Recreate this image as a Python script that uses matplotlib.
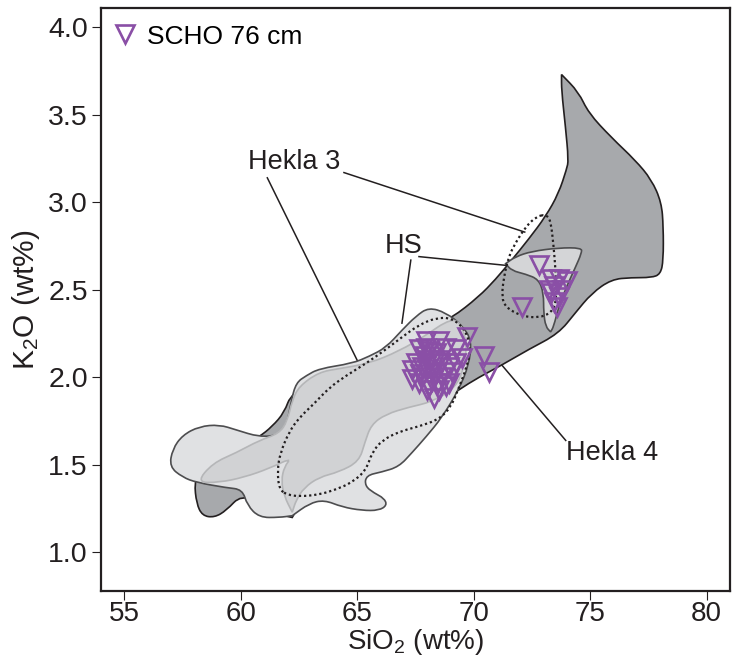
import matplotlib
matplotlib.use("Agg")
import matplotlib.pyplot as plt
from matplotlib.patches import PathPatch
from matplotlib.path import Path

plt.rcParams['font.family'] = ['Liberation Sans', 'DejaVu Sans']
plt.rcParams['mathtext.default'] = 'regular'

# Hekla 4 envelope (SiO2 wt%, K2O wt%)
hekla4_sio2 = [73.77, 74.50, 74.93, 75.91, 76.94, 77.63, 78.06, 78.14, 78.14, 78.02,
               77.63, 76.77, 75.91, 75.06, 74.37, 73.64, 72.36, 71.20, 70.21, 69.36,
               66.79, 64.65, 62.51, 62.21, 61.87, 61.01, 60.02, 59.38, 58.87, 58.35,
               58.10, 58.01, 58.22, 59.51, 60.79, 61.35, 61.87, 62.17, 63.79, 65.93,
               67.65, 69.06, 70.21, 70.94, 71.63, 72.36, 73.09, 73.64, 73.99, 74.07,
               73.94, 73.77]
hekla4_k2o = [3.73, 3.63, 3.51, 3.37, 3.24, 3.13, 3.00, 2.86, 2.67, 2.59,
              2.57, 2.57, 2.56, 2.48, 2.37, 2.25, 2.16, 2.07, 2.00, 1.93,
              1.70, 1.47, 1.27, 1.20, 1.21, 1.27, 1.33, 1.24, 1.20, 1.21,
              1.28, 1.40, 1.44, 1.56, 1.66, 1.72, 1.80, 1.91, 2.03, 2.13,
              2.24, 2.34, 2.46, 2.56, 2.67, 2.79, 2.92, 3.05, 3.19, 3.24,
              3.43, 3.64]

# HS envelope, main body
hs_sio2 = [62.21, 62.94, 63.58, 64.35, 65.21, 65.93, 66.28, 66.15, 65.72, 65.33,
           65.38, 66.06, 66.79, 67.35, 67.95, 68.63, 69.36, 69.79, 69.92, 69.49,
           68.80, 68.07, 67.52, 66.92, 66.23, 65.51, 64.78, 63.36, 62.81, 62.38,
           62.17, 62.00, 61.65, 60.79, 59.81, 59.08, 58.22, 57.50, 57.07, 56.94,
           57.50, 58.10, 59.38, 60.07, 60.28, 60.79, 61.65]
hs_k2o = [1.21, 1.28, 1.30, 1.26, 1.24, 1.24, 1.27, 1.31, 1.34, 1.38,
          1.44, 1.46, 1.49, 1.57, 1.66, 1.77, 1.93, 2.07, 2.21, 2.30,
          2.37, 2.40, 2.35, 2.27, 2.17, 2.12, 2.08, 2.05, 2.01, 1.97,
          1.87, 1.74, 1.67, 1.66, 1.70, 1.73, 1.72, 1.67, 1.59, 1.49,
          1.43, 1.40, 1.37, 1.36, 1.27, 1.20, 1.20]

# HS envelope, high-silica lobe
hs2_sio2 = [71.37, 71.80, 72.49, 73.64, 74.63, 74.63, 74.37, 73.99, 73.64, 73.43,
            73.30, 73.09, 73.00, 73.00, 72.79, 72.23, 71.63]
hs2_k2o = [2.65, 2.69, 2.72, 2.74, 2.74, 2.71, 2.63, 2.52, 2.40, 2.29,
           2.26, 2.29, 2.37, 2.48, 2.56, 2.59, 2.61]

# inner field (grey outline)
inner_sio2 = [58.10, 58.79, 59.81, 60.79, 61.65, 62.00, 62.21, 62.51, 63.36, 64.22,
              65.51, 66.79, 67.95, 68.80, 69.36, 69.70, 69.62, 69.23, 68.20, 67.22,
              66.23, 65.60, 65.33, 65.08, 64.22, 63.36, 62.72, 62.38, 62.21, 61.87,
              61.74, 61.87, 62.17, 61.22, 60.15, 59.08]
inner_k2o = [1.40, 1.51, 1.57, 1.64, 1.68, 1.75, 1.87, 1.95, 2.03, 2.05,
             2.08, 2.15, 2.24, 2.32, 2.33, 2.21, 2.07, 1.94, 1.86, 1.83,
             1.79, 1.73, 1.63, 1.52, 1.46, 1.43, 1.37, 1.30, 1.23, 1.32,
             1.41, 1.49, 1.54, 1.48, 1.43, 1.40]

# Hekla 3 envelopes (dotted)
h3a_sio2 = [61.65, 61.57, 61.70, 62.08, 62.51, 63.15, 63.79, 64.52, 65.38, 66.23,
            66.92, 67.65, 68.38, 69.06, 69.66, 69.87, 69.70, 69.36, 69.02, 68.50,
            67.65, 66.79, 66.06, 65.63, 65.38, 64.78, 64.09, 63.36, 62.51, 62.00]
h3a_k2o = [1.36, 1.47, 1.57, 1.69, 1.77, 1.85, 1.94, 2.01, 2.08, 2.16,
           2.23, 2.30, 2.34, 2.34, 2.27, 2.16, 2.06, 1.94, 1.83, 1.76,
           1.72, 1.69, 1.64, 1.57, 1.47, 1.40, 1.36, 1.33, 1.32, 1.33]
h3b_sio2 = [73.09, 73.30, 73.43, 73.52, 73.56, 73.34, 72.79, 72.06, 71.37, 71.20,
            71.29, 71.50, 71.80, 72.23, 72.70]
h3b_k2o = [2.93, 2.90, 2.75, 2.60, 2.44, 2.37, 2.34, 2.35, 2.40, 2.46,
           2.57, 2.69, 2.77, 2.86, 2.92]

# SCHO 76 cm glass shards
scho_sio2 = [68.50, 69.70, 69.49, 70.43, 70.64, 68.29, 67.65, 67.35, 68.93, 67.95,
             68.80, 67.78, 68.07, 68.50, 68.93, 67.52, 68.20, 68.63, 67.65, 68.07,
             69.06, 69.23, 67.95, 68.38, 67.35, 68.50, 68.80, 67.78, 69.23,
             68.00, 68.30, 68.20, 67.90, 68.40, 68.60, 67.70, 68.10, 68.45, 68.00,
             72.79, 72.06, 73.30, 73.64, 73.99, 73.43, 73.77, 73.30, 73.64, 73.43,
             73.56, 73.22]
scho_k2o = [2.21, 2.23, 2.11, 2.12, 2.03, 1.88, 2.16, 1.99, 1.97, 2.17,
            2.17, 2.06, 2.10, 2.10, 2.06, 2.08, 2.03, 2.00, 1.97, 1.95,
            2.03, 2.08, 2.21, 2.14, 2.04, 1.93, 1.95, 2.00, 2.16,
            2.05, 2.08, 1.98, 2.12, 2.02, 2.08, 2.02, 2.15, 1.97, 1.93,
            2.64, 2.40, 2.56, 2.56, 2.55, 2.52, 2.50, 2.48, 2.46, 2.43,
            2.40, 2.50]

# labels: (text, text position, leader line ends)
labels = [
    ("Hekla 3", (62.29, 3.23), [((61.14, 3.14), (64.99, 2.10)), ((64.43, 3.17), (72.19, 2.83))]),
    ("HS", (67.0, 2.75), [((67.30, 2.67), (66.92, 2.31)), ((67.65, 2.69), (71.38, 2.64))]),
    ("Hekla 4", (75.95, 1.57), [((73.95, 1.64), (71.21, 2.07))]),
]


def smooth_outline(xs, ys, corners=()):
    # closed outline drawn with quadratic curves; corner points are kept sharp
    pts = list(zip(xs, ys))
    n = len(pts)
    mid = lambda a, b: ((a[0] + b[0]) / 2, (a[1] + b[1]) / 2)
    start = mid(pts[-1], pts[0])
    verts, codes = [start], [Path.MOVETO]
    for i in range(n):
        nxt = mid(pts[i], pts[(i + 1) % n])
        verts += [pts[i], nxt]
        if i in corners:
            codes += [Path.LINETO, Path.LINETO]
        else:
            codes += [Path.CURVE3, Path.CURVE3]
    verts.append(start)
    codes.append(Path.CLOSEPOLY)
    return Path(verts, codes)


fig = plt.figure(figsize=(7.36, 6.61), dpi=100)
ax = fig.add_axes([0.1372, 0.1059, 0.8546, 0.882])

ax.add_patch(PathPatch(smooth_outline(hekla4_sio2, hekla4_k2o, corners=(0, 23)),
                       facecolor='#a7a9ac', edgecolor='#231f20', lw=1.2, zorder=1))
ax.add_patch(PathPatch(smooth_outline(hs_sio2, hs_k2o, corners=(0,)),
                       facecolor='#e0e1e3', edgecolor='#4d4d4f', lw=1.2, zorder=2))
ax.add_patch(PathPatch(smooth_outline(inner_sio2, inner_k2o, corners=(28,)),
                       facecolor='#d1d2d4', edgecolor='#b5b6b8', lw=1.2, zorder=3))
ax.add_patch(PathPatch(smooth_outline(hs2_sio2, hs2_k2o, corners=(0, 10)),
                       facecolor='#d4d5d7', edgecolor='#4d4d4f', lw=1.2, zorder=2))
for xs, ys in [(h3a_sio2, h3a_k2o), (h3b_sio2, h3b_k2o)]:
    ax.add_patch(PathPatch(smooth_outline(xs, ys), fill=False, edgecolor='#231f20',
                           lw=1.6, linestyle=(0, (1, 1.3)), zorder=4))

ax.plot(scho_sio2, scho_k2o, linestyle='none', marker='v', markersize=12.5,
        markerfacecolor='none', markeredgecolor='#8a4fa6', markeredgewidth=1.9,
        label='SCHO 76 cm', zorder=5)

for text, pos, leaders in labels:
    ax.text(pos[0], pos[1], text, fontsize=19.5, ha='center', va='center', color='#231f20', zorder=6)
    for (x0, y0), (x1, y1) in leaders:
        ax.plot([x0, x1], [y0, y1], color='#231f20', lw=1.1, zorder=6)

ax.set_xlim(54, 81)
ax.set_ylim(0.78, 4.11)
ax.set_xticks([55, 60, 65, 70, 75, 80])
ax.set_yticks([1.0, 1.5, 2.0, 2.5, 3.0, 3.5, 4.0])
ax.set_yticklabels(['1.0', '1.5', '2.0', '2.5', '3.0', '3.5', '4.0'])
ax.tick_params(direction='out', length=6.5, width=0.8, labelsize=20.5, pad=3, colors='#231f20')
ax.tick_params(axis='x', labelsize=20, pad=1)
for sp in ax.spines.values():
    sp.set_linewidth(1.6)
    sp.set_color('#231f20')

ax.set_xlabel('SiO$_2$ (wt%)', fontsize=20, labelpad=0, color='#231f20')
ax.set_ylabel('K$_2$O (wt%)', fontsize=21.5, labelpad=4, color='#231f20')

ax.legend(loc='upper left', bbox_to_anchor=(0.0, 0.994), frameon=False, fontsize=19,
          handletextpad=0.45, borderaxespad=0.1, handlelength=0.8)

fig.savefig('out.png', dpi=100)
